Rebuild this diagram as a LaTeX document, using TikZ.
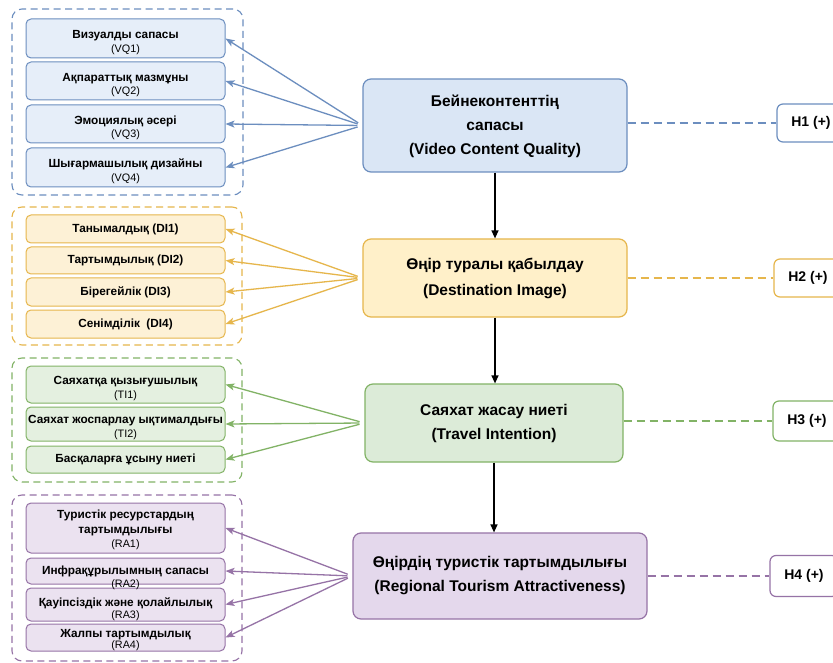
\documentclass[tikz,border=0pt]{standalone}
\usepackage{fontspec}
\setmainfont{Liberation Sans}
\usetikzlibrary{arrows.meta,calc}
\definecolor{bDraw}{HTML}{6C8EBF}
\definecolor{bFill}{HTML}{DAE6F5}
\definecolor{bItem}{HTML}{E6EEF9}
\definecolor{yDraw}{HTML}{E6B64C}
\definecolor{yFill}{HTML}{FFF0C9}
\definecolor{yItem}{HTML}{FDF1D6}
\definecolor{gDraw}{HTML}{82B366}
\definecolor{gFill}{HTML}{DCEBD8}
\definecolor{gItem}{HTML}{E4F0E0}
\definecolor{pDraw}{HTML}{9673A6}
\definecolor{pFill}{HTML}{E4D8EC}
\definecolor{pItem}{HTML}{EBE2F0}
\newcommand\codetxt[1]{{\fontsize{10.8}{13}\selectfont\mdseries #1}}
\newcommand\lift[1]{\rule{0pt}{#1}}
\begin{document}
\begin{tikzpicture}[x=1pt,y=-1pt,
  itembox/.style 2 args={draw=#1, fill=#2, rounded corners=5pt, line width=1pt,
    minimum width=199pt, inner sep=0pt, align=center,
    font=\fontsize{11.8}{13.5}\selectfont\bfseries},
  mainbox/.style 2 args={draw=#1, fill=#2, rounded corners=8pt, line width=1.2pt,
    inner sep=0pt, align=center, font=\fontsize{15.5}{24}\selectfont\bfseries},
  hypbox/.style={draw=#1, fill=white, rounded corners=6pt, line width=1.2pt,
    minimum width=68pt, inner sep=0pt, font=\fontsize{14}{16}\selectfont\bfseries},
  groupbox/.style={draw=#1, rounded corners=10pt, line width=1.1pt,
    dash pattern=on 7pt off 4.5pt, inner sep=0pt},
  fan/.style={draw=#1, line width=1.3pt, shorten <=5pt,
    -{Stealth[length=9pt,width=7pt,inset=2.2pt]}},
  hline/.style={draw=#1, line width=1.2pt, dash pattern=on 8pt off 5pt},
  vert/.style={draw=black, line width=1.3pt, -{Triangle[length=8pt,width=7pt]}},
  codenode/.style={inner sep=0pt, font=\fontsize{10.8}{13}\selectfont}
]
\useasboundingbox (0,0) rectangle (833,663);
\fill[white] (0,0) rectangle (833,663);
\clip (0,0) rectangle (833,663);

% group frames
\node[groupbox=bDraw, minimum width=231pt, minimum height=186pt] (G1) at (127.5,102) {};
\node[groupbox=yDraw, minimum width=230pt, minimum height=138pt] (G2) at (127,276) {};
\node[groupbox=gDraw, minimum width=230pt, minimum height=124pt] (G3) at (127,420) {};
\node[groupbox=pDraw, minimum width=230pt, minimum height=166pt] (G4) at (127,578) {};

% items: video quality
\node[itembox={bDraw}{bItem}, minimum height=39pt] (VQ1) at (125.5,38.5) {\lift{16pt}Визуалды сапасы\\\codetxt{(VQ1)}};
\node[itembox={bDraw}{bItem}, minimum height=38pt] (VQ2) at (125.5,81) {\lift{16pt}Ақпараттық мазмұны\\\codetxt{(VQ2)}};
\node[itembox={bDraw}{bItem}, minimum height=38pt] (VQ3) at (125.5,124) {\lift{16pt}Эмоциялық әсері\\\codetxt{(VQ3)}};
\node[itembox={bDraw}{bItem}, minimum height=39pt] (VQ4) at (125.5,167.5) {\lift{16pt}Шығармашылық дизайны\\\codetxt{(VQ4)}};

% items: destination image
\node[itembox={yDraw}{yItem}, minimum height=28pt] (DI1) at (125.5,229) {Танымалдық (DI1)};
\node[itembox={yDraw}{yItem}, minimum height=27pt] (DI2) at (125.5,260.5) {Тартымдылық (DI2)};
\node[itembox={yDraw}{yItem}, minimum height=28pt] (DI3) at (125.5,292) {Бірегейлік (DI3)};
\node[itembox={yDraw}{yItem}, minimum height=28pt] (DI4) at (125.5,324) {Сенімділік\ \ (DI4)};

% items: travel intention
\node[itembox={gDraw}{gItem}, minimum height=37pt] (TI1) at (125.5,384.5) {\lift{16pt}Саяхатқа қызығушылық\\\codetxt{(TI1)}};
\node[itembox={gDraw}{gItem}, minimum height=34pt] (TI2) at (125.5,424) {\lift{15pt}Саяхат жоспарлау ықтималдығы\\\codetxt{(TI2)}};
\node[itembox={gDraw}{gItem}, minimum height=27pt] (TI3) at (125.5,459.5) {Басқаларға ұсыну ниеті};

% items: regional attractiveness
\node[itembox={pDraw}{pItem}, minimum height=50pt] (RA1) at (125.5,528) {\lift{12.5pt}Туристік ресурстардың\\[1pt]тартымдылығы\\[1pt]\codetxt{(RA1)}};
\node[itembox={pDraw}{pItem}, minimum height=26pt] (RA2) at (125.5,571) {Инфрақұрылымның сапасы};
\node[itembox={pDraw}{pItem}, minimum height=33pt] (RA3) at (125.5,604.5) {\lift{17.5pt}Қауіпсіздік және қолайлылық\\[-1.5pt]\codetxt{(RA3)}};
\node[itembox={pDraw}{pItem}, minimum height=27pt] (RA4) at (125.5,637.5) {\lift{13.5pt}Жалпы тартымдылық\\[-2.5pt]\codetxt{(RA4)}};
\node[codenode] (RA2c) at (RA2.south) {(RA2)};

% main constructs
\node[mainbox={bDraw}{bFill}, minimum width=264pt, minimum height=93pt] (B1) at (495,125.5)
  {\lift{14pt}Бейнеконтенттің\\сапасы\\(Video Content Quality)};
\node[mainbox={yDraw}{yFill}, minimum width=264pt, minimum height=78pt] (B2) at (495,278)
  {Өңір туралы қабылдау\\[2pt](Destination Image)};
\node[mainbox={gDraw}{gFill}, minimum width=258pt, minimum height=78pt] (B3) at (494,423)
  {Саяхат жасау ниеті\\(Travel Intention)};
\node[mainbox={pDraw}{pFill}, minimum width=294pt, minimum height=86pt] (B4) at (500,576)
  {Өңірдің туристік тартымдылығы\\(Regional Tourism Attractiveness)};

% hypotheses
\node[hypbox=bDraw, minimum height=38pt] (H1) at (811,123) {H1 (+)};
\node[hypbox=yDraw, minimum height=38pt] (H2) at (808,278) {H2 (+)};
\node[hypbox=gDraw, minimum height=40pt] (H3) at (807,421) {H3 (+)};
\node[hypbox=pDraw, minimum height=41pt] (H4) at (804,576) {H4 (+)};

% fan-out arrows
\foreach \i in {1,2,3,4} \draw[fan=bDraw] (B1.west) -- (VQ\i.east);
\foreach \i in {1,2,3,4} \draw[fan=yDraw] (B2.west) -- (DI\i.east);
\foreach \i in {1,2,3} \draw[fan=gDraw] (B3.west) -- (TI\i.east);
\foreach \i in {1,2,3,4} \draw[fan=pDraw] (B4.west) -- (RA\i.east);

% vertical chain
\draw[vert] (B1.south) -- (B1.south |- B2.north);
\draw[vert] (B2.south) -- (B2.south |- B3.north);
\draw[vert] (B3.south) -- (B3.south |- B4.north);

% dashed links to hypotheses
\draw[hline=bDraw] (B1.east |- H1.west) -- (H1.west);
\draw[hline=yDraw] (B2.east |- H2.west) -- (H2.west);
\draw[hline=gDraw] (B3.east |- H3.west) -- (H3.west);
\draw[hline=pDraw] (B4.east |- H4.west) -- (H4.west);
\end{tikzpicture}
\end{document}
